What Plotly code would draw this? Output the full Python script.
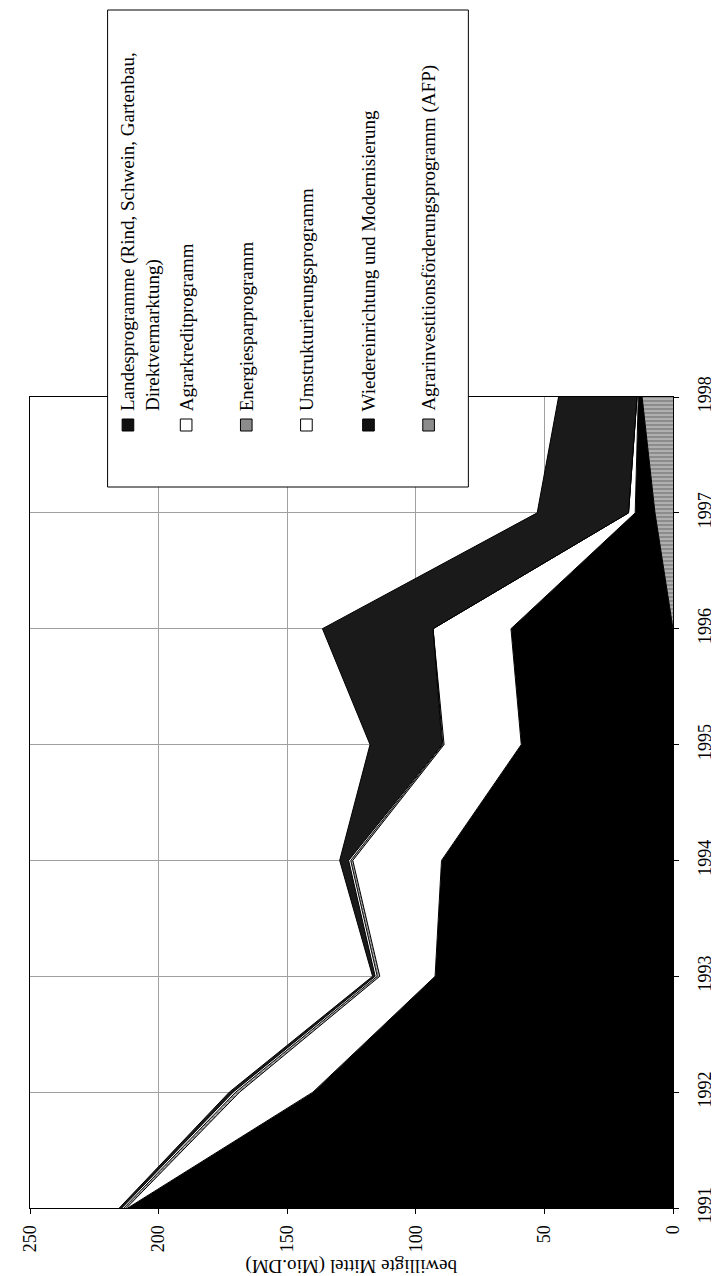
import plotly.graph_objects as go

# ---------------- data ----------------
years = [1991, 1992, 1993, 1994, 1995, 1996, 1997, 1998]
afp = [0, 0, 0, 0, 0, 0, 7, 12]
wiedereinrichtung = [212, 140, 92.5, 90, 59, 63, 7.7, 1.5]
umstrukturierung = [0.5, 28.5, 21.5, 34.5, 30, 30.3, 2.6, 0.5]
energiespar = [1.0, 1.5, 1.0, 0.8, 0.5, 0, 0, 0]
agrarkredit = [0.8, 1.0, 0.8, 0.8, 0.3, 0, 0, 0]
landesprogramme = [1.0, 1.5, 1.0, 3.5, 28, 43, 35.5, 30.5]
value_ticks = [0, 50, 100, 150, 200, 250]
axis_title = "bewilligte Mittel (Mio.DM)"
legend_labels = [
    "Landesprogramme (Rind, Schwein, Gartenbau,<br>Direktvermarktung)",
    "Agrarkreditprogramm",
    "Energiesparprogramm",
    "Umstrukturierungsprogramm",
    "Wiedereinrichtung und Modernisierung",
    "Agrarinvestitionsförderungsprogramm (AFP)",
]

# ---------------- geometry ----------------
W, H = 719, 1276
PL, PR, PT, PB = 15, 678, 389, 1200  # plot area in pixels


def px2x(px):
    return (px - PL) / (PR - PL)


def py2y(py):
    return (PB - py) / (PB - PT)


FONT = "Liberation Serif"
TICK_SIZE = 18
TEXT_SIZE = 19

fig = go.Figure()

hatch = dict(shape="-", bgcolor="#8c8c8c", fgcolor="#f0f0f0", size=4, solidity=0.35)

series = [
    ("Agrarinvestitionsförderungsprogramm (AFP)", afp, "#8c8c8c", hatch),
    ("Wiedereinrichtung und Modernisierung", wiedereinrichtung, "#000000", None),
    ("Umstrukturierungsprogramm", umstrukturierung, "#ffffff", None),
    ("Energiesparprogramm", energiespar, "#8c8c8c", hatch),
    ("Agrarkreditprogramm", agrarkredit, "#ffffff", None),
    ("Landesprogramme", landesprogramme, "#1a1a1a", None),
]

for name, vals, col, pat in series:
    kw = dict(
        x=vals, y=years, name=name, mode="lines",
        stackgroup="one", orientation="h",
        line=dict(color="#000000", width=1),
        fillcolor=col, showlegend=False, hoverinfo="skip",
    )
    if pat is not None:
        kw["fillpattern"] = pat
    fig.add_trace(go.Scatter(**kw))

fig.update_layout(
    width=W, height=H,
    margin=dict(l=PL, r=W - PR, t=PT, b=H - PB, pad=0),
    paper_bgcolor="white", plot_bgcolor="white",
    font=dict(family=FONT, size=TICK_SIZE, color="black"),
    showlegend=False,
)

fig.update_xaxes(
    range=[250, 0], tickvals=value_ticks, ticktext=[str(v) for v in value_ticks],
    tickangle=-90, ticks="outside", ticklen=5, tickcolor="black",
    tickfont=dict(family=FONT, size=TICK_SIZE, color="black"),
    showline=True, linecolor="black", linewidth=1, mirror=True,
    showgrid=True, gridcolor="#a0a0a0", gridwidth=1, zeroline=False,
    ticklabelstandoff=4,
)
fig.update_yaxes(
    range=[1991, 1998], tickvals=years, ticktext=[str(y) for y in years],
    side="right", tickangle=-90, ticks="outside", ticklen=5, tickcolor="black",
    tickfont=dict(family=FONT, size=TICK_SIZE, color="black"),
    showline=True, linecolor="black", linewidth=1, mirror=True,
    showgrid=True, gridcolor="#a0a0a0", gridwidth=1, zeroline=False,
    ticklabelstandoff=10,
)

shapes = []
annotations = []

# legend box
shapes.append(dict(
    type="rect", xref="paper", yref="paper",
    x0=px2x(95), x1=px2x(467), y0=py2y(479), y1=py2y(2),
    fillcolor="white", line=dict(color="black", width=1), layer="above",
))

legend_x = [129, 176, 238, 300, 364, 426]
square_x = [116, 176, 238, 300, 364, 426]
square_fill = ["#111111", "#ffffff", "#8c8c8c", "#ffffff", "#111111", "#8c8c8c"]
for lbl, cx, sx, sf in zip(legend_labels, legend_x, square_x, square_fill):
    shapes.append(dict(
        type="rect", xref="paper", yref="paper",
        x0=px2x(sx - 6), x1=px2x(sx + 6), y0=py2y(423), y1=py2y(411),
        fillcolor=sf, line=dict(color="black", width=1), layer="above",
    ))
    annotations.append(dict(
        text=lbl, xref="paper", yref="paper",
        x=px2x(cx), y=py2y(404), xanchor="center", yanchor="bottom",
        textangle=-90, showarrow=False, align="left", borderpad=0,
        font=dict(family=FONT, size=TEXT_SIZE, color="black"),
    ))

# upside-down axis title
annotations.append(dict(
    text=axis_title, xref="paper", yref="paper",
    x=px2x(346), y=py2y(1258), xanchor="center", yanchor="middle",
    textangle=180, showarrow=False, borderpad=0,
    font=dict(family=FONT, size=TEXT_SIZE, color="black"),
))

fig.update_layout(shapes=shapes, annotations=annotations)

fig.write_html("out.html")
